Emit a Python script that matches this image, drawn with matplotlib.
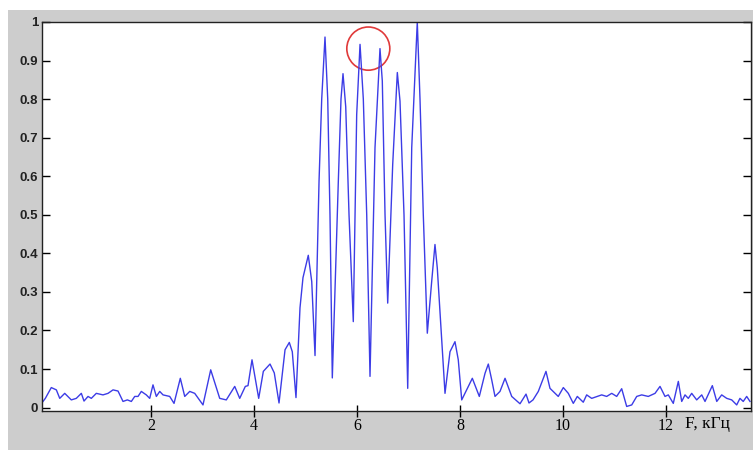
import matplotlib
matplotlib.use("Agg")
import matplotlib.pyplot as plt
from matplotlib.patches import Ellipse, Rectangle

freq_khz = [-0.105, -0.060, 0.056, 0.154, 0.220, 0.317, 0.445, 0.542, 0.640, 0.692,
            0.770, 0.834, 0.931, 1.061, 1.159, 1.256, 1.353, 1.450, 1.534, 1.612,
            1.678, 1.742, 1.806, 1.903, 1.969, 2.033, 2.098, 2.164, 2.228, 2.358,
            2.442, 2.564, 2.650, 2.747, 2.844, 3.005, 3.155, 3.330, 3.458, 3.622,
            3.719, 3.828, 3.880, 3.958, 4.088, 4.178, 4.308, 4.391, 4.483, 4.600,
            4.683, 4.741, 4.813, 4.891, 4.949, 5.052, 5.119, 5.183, 5.261, 5.313,
            5.377, 5.430, 5.474, 5.519, 5.636, 5.688, 5.727, 5.780, 5.844, 5.927,
            5.993, 6.058, 6.122, 6.188, 6.252, 6.349, 6.446, 6.491, 6.544, 6.596,
            6.693, 6.783, 6.835, 6.913, 6.985, 7.063, 7.171, 7.224, 7.288, 7.366,
            7.451, 7.515, 7.560, 7.710, 7.807, 7.904, 7.968, 8.035, 8.241, 8.377,
            8.488, 8.552, 8.618, 8.682, 8.779, 8.877, 9.007, 9.168, 9.285, 9.343,
            9.421, 9.524, 9.673, 9.751, 9.912, 10.010, 10.107, 10.204, 10.282, 10.398,
            10.464, 10.562, 10.756, 10.853, 10.951, 11.048, 11.145, 11.242, 11.340, 11.437,
            11.534, 11.662, 11.793, 11.890, 11.987, 12.051, 12.148, 12.246, 12.312, 12.376,
            12.440, 12.506, 12.603, 12.701, 12.765, 12.907, 12.993, 13.089, 13.187, 13.284,
            13.381, 13.444, 13.508, 13.575, 13.639]
amplitude = [0.016, 0.024, 0.052, 0.046, 0.024, 0.037, 0.020, 0.024, 0.037, 0.017,
             0.029, 0.024, 0.037, 0.033, 0.037, 0.046, 0.043, 0.016, 0.020, 0.016,
             0.029, 0.029, 0.042, 0.033, 0.024, 0.059, 0.029, 0.042, 0.033, 0.029,
             0.011, 0.076, 0.029, 0.042, 0.037, 0.007, 0.098, 0.024, 0.020, 0.055,
             0.024, 0.055, 0.057, 0.124, 0.024, 0.094, 0.113, 0.090, 0.012, 0.150,
             0.169, 0.145, 0.026, 0.259, 0.337, 0.395, 0.327, 0.135, 0.587, 0.800,
             0.961, 0.800, 0.500, 0.077, 0.587, 0.800, 0.866, 0.780, 0.500, 0.223,
             0.760, 0.942, 0.800, 0.500, 0.081, 0.674, 0.931, 0.847, 0.500, 0.271,
             0.630, 0.869, 0.795, 0.500, 0.050, 0.674, 1.000, 0.800, 0.500, 0.193,
             0.327, 0.423, 0.362, 0.037, 0.145, 0.171, 0.124, 0.020, 0.076, 0.029,
             0.089, 0.113, 0.072, 0.029, 0.042, 0.076, 0.029, 0.010, 0.035, 0.012,
             0.020, 0.042, 0.094, 0.050, 0.029, 0.052, 0.037, 0.011, 0.029, 0.014,
             0.033, 0.024, 0.033, 0.029, 0.037, 0.029, 0.049, 0.003, 0.007, 0.029,
             0.033, 0.029, 0.037, 0.055, 0.029, 0.033, 0.011, 0.068, 0.016, 0.033,
             0.024, 0.037, 0.020, 0.033, 0.016, 0.057, 0.016, 0.033, 0.024, 0.020,
             0.007, 0.024, 0.016, 0.029, 0.016]

x_ticks = [2, 4, 6, 8, 10, 12]
x_tick_labels = ["2", "4", "6", "8", "10", "12"]
y_ticks = [0, 0.1, 0.2, 0.3, 0.4, 0.5, 0.6, 0.7, 0.8, 0.9, 1.0]
y_tick_labels = ["0", "0.1", "0.2", "0.3", "0.4", "0.5", "0.6", "0.7", "0.8", "0.9", "1"]
x_label = "F, кГц"
circle_center = (6.219, 0.931)

fig = plt.figure(figsize=(7.53, 4.5), dpi=100)
fig.patch.set_facecolor("white")
fig.patches.append(Rectangle((8 / 753, 0), 1, 440 / 450, transform=fig.transFigure,
                             facecolor="#cdcdcd", edgecolor="none", zorder=-10))

ax = fig.add_axes([42.3 / 753, (450 - 410.7) / 450, (750.7 - 42.3) / 753, (410.7 - 22) / 450])
ax.set_zorder(1)
ax.set_facecolor("white")
ax.plot(freq_khz, amplitude, color="#3c3ce6", linewidth=1.0)
ax.add_patch(Ellipse(circle_center, width=0.836, height=0.112,
                     fill=False, edgecolor="#e03a3a", linewidth=1.2))

ax.set_xlim(-0.119, 13.653)
ax.set_ylim(-0.008, 1.0)
ax.set_xticks(x_ticks)
ax.set_xticklabels(x_tick_labels, family="Liberation Serif", fontsize=11.5)
ax.set_yticks(y_ticks)
ax.set_yticklabels(y_tick_labels, family="Liberation Sans", fontsize=9.5, fontweight="bold",
                   color="#222222")
ax.tick_params(axis="y", direction="in", length=6, width=1, right=True, pad=3)
ax.tick_params(axis="x", direction="inout", length=9, width=1, pad=1)
for s in ax.spines.values():
    s.set_color("#222222")
    s.set_linewidth(1.0)

fig.text(685 / 753, (450 - 424) / 450, x_label, family="Liberation Serif", fontsize=12.5,
         ha="left", va="center", zorder=2)

fig.savefig("out.png", dpi=100, facecolor=fig.get_facecolor())
